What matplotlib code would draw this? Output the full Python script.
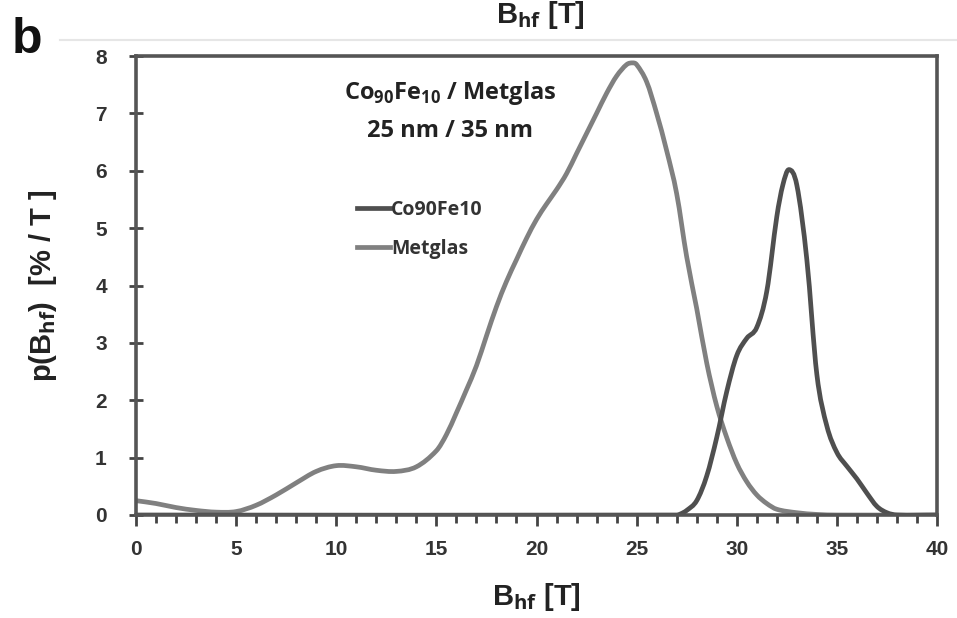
import numpy as np
import matplotlib
matplotlib.use('Agg')
import matplotlib.pyplot as plt
from matplotlib.ticker import MultipleLocator
from matplotlib.path import Path
from matplotlib.patches import PathPatch
from matplotlib.lines import Line2D

# 数据
metglas_x = [0, 1, 2, 3, 4, 5, 6, 7, 8, 9, 10, 11, 12, 13, 14, 15, 15.5, 16, 16.5, 17,
             17.5, 18, 18.5, 19, 19.5, 20, 20.5, 21, 21.5, 22, 22.5, 23, 23.5, 24, 24.5,
             24.8, 25, 25.5, 26, 26.5, 27, 27.5, 28, 28.5, 29, 29.5, 30, 30.5, 31, 31.5,
             32, 33, 34, 35, 40]
metglas_y = [0.25, 0.2, 0.13, 0.08, 0.05, 0.06, 0.17, 0.35, 0.56, 0.76, 0.86, 0.84, 0.78,
             0.76, 0.84, 1.12, 1.4, 1.78, 2.18, 2.6, 3.12, 3.63, 4.07, 4.45, 4.82, 5.15,
             5.42, 5.67, 5.95, 6.3, 6.65, 7.0, 7.35, 7.65, 7.85, 7.88, 7.85, 7.55, 7.0,
             6.35, 5.6, 4.5, 3.6, 2.65, 1.9, 1.35, 0.9, 0.58, 0.35, 0.2, 0.1, 0.04, 0.01,
             0, 0]
co_x = [0, 27, 27.2, 27.5, 28, 28.5, 29, 29.5, 30, 30.5, 31, 31.5, 32, 32.3, 32.6, 33,
        33.5, 34, 34.5, 35, 35.5, 36, 36.5, 37, 37.5, 38, 40]
co_y = [0, 0, 0.02, 0.08, 0.25, 0.68, 1.35, 2.15, 2.78, 3.08, 3.27, 3.9, 5.2, 5.75, 6.02,
        5.75, 4.45, 2.45, 1.55, 1.09, 0.85, 0.63, 0.38, 0.15, 0.04, 0, 0]
series_names = ['Co90Fe10', 'Metglas']
series_colors = ['#4f4f4f', '#808080']


def smooth_path(xs, ys):
    # 平滑线: 经过各点的三次 Hermite (贝塞尔形式)
    x = np.asarray(xs, float)
    y = np.asarray(ys, float)
    n = len(x)
    m = np.zeros(n)
    for i in range(n):
        a = max(i - 1, 0)
        b = min(i + 1, n - 1)
        m[i] = (y[b] - y[a]) / (x[b] - x[a])
    verts = [(x[0], y[0])]
    codes = [Path.MOVETO]
    for i in range(n - 1):
        h = x[i + 1] - x[i]
        verts += [(x[i] + h / 3, y[i] + m[i] * h / 3),
                  (x[i + 1] - h / 3, y[i + 1] - m[i + 1] * h / 3),
                  (x[i + 1], y[i + 1])]
        codes += [Path.CURVE4] * 3
    return Path(verts, codes)


plt.rcParams['font.family'] = ['Liberation Sans', 'DejaVu Sans']
plt.rcParams['mathtext.fontset'] = 'custom'
plt.rcParams['mathtext.bf'] = 'Open Sans:bold'
plt.rcParams['mathtext.rm'] = 'Open Sans'

fig = plt.figure(figsize=(9.57, 6.18), dpi=100)
ax = fig.add_axes([136/957, 1-515/618, 801/957, 459/618])

handles = []
for xs, ys, name, col in [(metglas_x, metglas_y, series_names[1], series_colors[1]),
                          (co_x, co_y, series_names[0], series_colors[0])]:
    ax.add_patch(PathPatch(smooth_path(xs, ys), facecolor='none', edgecolor=col,
                           lw=3.4, joinstyle='round', capstyle='round'))
    handles.append(Line2D([], [], color=col, lw=3.4, label=name))

ax.set_xlim(0, 40)
ax.set_ylim(0, 8)
ax.xaxis.set_major_locator(MultipleLocator(5))
ax.xaxis.set_minor_locator(MultipleLocator(1))
ax.yaxis.set_major_locator(MultipleLocator(1))
for s in ax.spines.values():
    s.set_color('#555555')
    s.set_linewidth(2.6)
ax.tick_params(axis='x', which='major', direction='out', length=8, width=2,
               color='#444444', labelsize=15, pad=10)
ax.tick_params(axis='x', which='minor', direction='out', length=6, width=2, color='#444444')
ax.tick_params(axis='y', which='major', direction='inout', length=10, width=2,
               color='#444444', labelsize=15, pad=16)
for lab in ax.get_xticklabels() + ax.get_yticklabels():
    lab.set_fontweight('bold')
    lab.set_color('#333333')

ax.set_xlabel('B$_{\\mathbf{hf}}$ [T]', fontsize=21, fontweight='bold', color='#222222',
              labelpad=16)
ax.set_ylabel('p(B$_{\\mathbf{hf}}$)  [% / T ]', fontsize=21, fontweight='bold',
              color='#222222', labelpad=26)

ann_font = ['Open Sans', 'DejaVu Sans']
ax.text(15.7, 7.35, 'Co$_{\\mathbf{90}}$Fe$_{\\mathbf{10}}$ / Metglas', ha='center',
        va='center', fontsize=17, fontweight='bold', family=ann_font, color='#222222')
ax.text(15.7, 6.7, '25 nm / 35 nm', ha='center', va='center', fontsize=17,
        fontweight='bold', family=ann_font, color='#222222')

leg = ax.legend(handles=handles[::-1], loc='upper left',
                bbox_to_anchor=(0.254, 0.725), frameon=False, handlelength=1.7,
                handletextpad=0.05, labelspacing=1.0,
                prop={'family': ann_font, 'weight': 'bold', 'size': 14})
for t in leg.get_texts():
    t.set_color('#333333')

# 上一面板残留
fig.text(540/957, 1-15/618, 'B$_{\\mathbf{hf}}$ [T]', ha='center', va='center',
         fontsize=21, fontweight='bold', color='#222222')
fig.add_artist(Line2D([60/957, 1], [1-40/618, 1-40/618], color='#e6e6e6', lw=1.5))
fig.text(12/957, 1-40/618, 'b', ha='left', va='center', fontsize=36, fontweight='bold',
         color='#111111')

fig.savefig('out.png', dpi=100)
